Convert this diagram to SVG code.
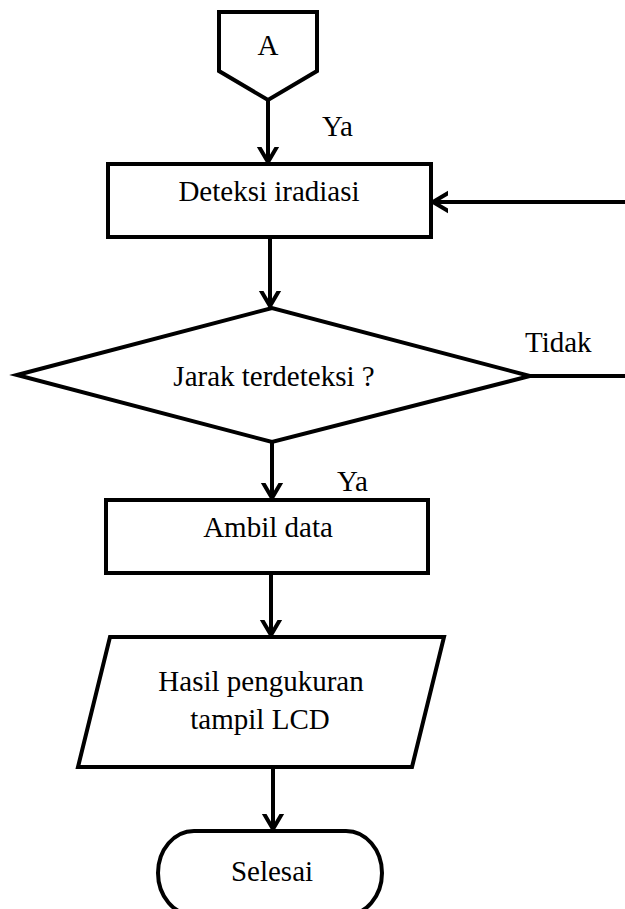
<svg xmlns="http://www.w3.org/2000/svg" width="625" height="909" viewBox="0 0 625 909">
  <style>
    .shape { fill: #ffffff; stroke: #000000; stroke-width: 4; stroke-linejoin: miter; }
    .line { fill: none; stroke: #000000; stroke-width: 4; }
    .label { font-family: "Liberation Serif", "Times New Roman", serif; font-size: 29px; fill: #000000; }
    .mid { text-anchor: middle; }
  </style>
  <defs>
    <marker id="arrow" markerUnits="userSpaceOnUse" markerWidth="30" markerHeight="30" viewBox="-15 -15 30 30" refX="0" refY="0" orient="auto">
      <path d="M -17 -10 L 0 0 L -17 10" fill="none" stroke="#000000" stroke-width="4"/>
    </marker>
  </defs>

  <rect width="625" height="909" fill="#ffffff"/>

  <!-- connectors -->
  <g id="connectors">
    <line class="line" x1="268" y1="100" x2="268" y2="162" marker-end="url(#arrow)"/>
    <line class="line" x1="625" y1="202" x2="433" y2="202" marker-end="url(#arrow)"/>
    <line class="line" x1="270" y1="237" x2="270" y2="306" marker-end="url(#arrow)"/>
    <line class="line" x1="530" y1="376" x2="625" y2="376"/>
    <line class="line" x1="272" y1="442" x2="272" y2="498" marker-end="url(#arrow)"/>
    <line class="line" x1="271" y1="573" x2="271" y2="635" marker-end="url(#arrow)"/>
    <line class="line" x1="273" y1="767" x2="273" y2="829" marker-end="url(#arrow)"/>
  </g>

  <!-- off-page connector A -->
  <g id="node-a">
    <polygon class="shape" points="219,12 317,12 317,71 268,100 219,71"/>
    <text class="label mid" x="268" y="55">A</text>
  </g>

  <g id="label-ya-1">
    <text class="label" x="322" y="136">Ya</text>
  </g>

  <!-- process: deteksi iradiasi -->
  <g id="node-deteksi">
    <rect class="shape" x="108" y="164" width="323" height="73"/>
    <text class="label mid" x="269" y="201">Deteksi iradiasi</text>
  </g>

  <!-- decision -->
  <g id="node-jarak">
    <polygon class="shape" points="17,375 272,308 530,376 272,442"/>
    <text class="label mid" x="274" y="386">Jarak terdeteksi ?</text>
  </g>

  <g id="label-tidak">
    <text class="label" x="525" y="352">Tidak</text>
  </g>

  <g id="label-ya-2">
    <text class="label" x="337" y="491">Ya</text>
  </g>

  <!-- process: ambil data -->
  <g id="node-ambil">
    <rect class="shape" x="106" y="500" width="322" height="73"/>
    <text class="label mid" x="268" y="537">Ambil data</text>
  </g>

  <!-- output: hasil pengukuran -->
  <g id="node-hasil">
    <polygon class="shape" points="110,637 444,637 412,767 78,767"/>
    <text class="label mid" x="261" y="691">Hasil pengukuran</text>
    <text class="label mid" x="260" y="729">tampil LCD</text>
  </g>

  <!-- terminator: selesai (runs past the bottom edge) -->
  <g id="node-selesai">
    <rect class="shape" x="158" y="831" width="224" height="84" rx="36" ry="42"/>
    <text class="label mid" x="272" y="881">Selesai</text>
  </g>
</svg>
